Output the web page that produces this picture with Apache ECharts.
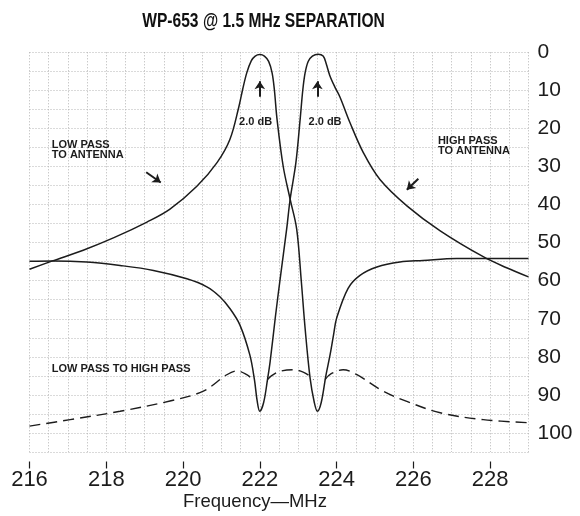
<!DOCTYPE html>
<html><head><meta charset="utf-8">
<script src="https://cdn.jsdelivr.net/npm/echarts@6/dist/echarts.min.js"></script>
<style>html,body{margin:0;padding:0;background:#fff}#c{width:580px;height:516px}</style>
</head><body><div id="c"></div>
<script>
const chartTitle = 'WP-653 @ 1.5 MHz SEPARATION';
const xAxisName = 'Frequency\u2014MHz';
const xTickLabels = [216, 218, 220, 222, 224, 226, 228];
const yTickLabels = [0, 10, 20, 30, 40, 50, 60, 70, 80, 90, 100];

// [MHz, dB]
const lowPassToAntenna = [
  [216.0, 57.0], [216.6, 54.8], [217.4, 52.0], [218.2, 48.7], [219.06, 44.6], [219.66, 41.2],
  [220.36, 35.2], [220.89, 28.9], [221.22, 22.9], [221.45, 14.5], [221.55, 9.9], [221.66, 5.4],
  [221.78, 2.2], [221.88, 1.0], [222.0, 0.6], [222.12, 1.0], [222.23, 2.4], [222.32, 5.4],
  [222.38, 9.9], [222.45, 17.7], [222.61, 30.0], [222.79, 38.6], [222.96, 46.4], [223.08, 60.0],
  [223.18, 72.5], [223.31, 85.6], [223.42, 92.0], [223.5, 94.3], [223.6, 92.0], [223.72, 85.0],
  [223.83, 79.5], [223.92, 74.3], [224.0, 69.9], [224.3, 62.0], [224.61, 58.6], [225.05, 56.4],
  [225.65, 55.1], [226.25, 54.7], [227.13, 54.2], [228.0, 54.2], [229.0, 54.2]
];
const highPassToAntenna = [
  [216.0, 54.9], [216.62, 54.8], [217.49, 55.1], [218.36, 56.0], [219.23, 57.3], [220.1, 59.5],
  [220.62, 61.6], [220.96, 64.2], [221.22, 67.3], [221.48, 71.6], [221.74, 79.5], [221.86, 86.0],
  [221.93, 91.5], [222.0, 94.3], [222.1, 92.0], [222.2, 86.0], [222.27, 81.2], [222.4, 70.0],
  [222.53, 59.5], [222.7, 46.4], [222.79, 38.6], [222.94, 29.0], [223.05, 17.7], [223.12, 9.9],
  [223.18, 5.4], [223.26, 2.4], [223.37, 1.0], [223.52, 0.5], [223.65, 1.0], [223.73, 3.0],
  [223.82, 6.0], [223.95, 9.0], [224.09, 11.8], [224.35, 18.5], [224.7, 26.4], [225.13, 33.4],
  [225.84, 40.4], [226.7, 46.9], [227.82, 53.7], [228.43, 56.6], [229.0, 59.0]
];
const lowPassToHighPass = [
  [216.0, 98.2], [217.06, 96.5], [218.36, 94.3], [219.66, 91.6], [220.53, 89.0], [221.14, 84.7],
  [221.4, 83.7], [221.66, 84.7], [221.83, 86.0], [222.0, '-'], [222.2, 86.0], [222.3, 85.0],
  [222.53, 83.8], [222.87, 83.4], [223.13, 84.0], [223.31, 85.1], [223.4, 86.0], [223.5, '-'],
  [223.7, 86.0], [223.85, 84.5], [224.17, 83.4], [224.53, 84.7], [225.21, 89.0], [225.83, 91.7],
  [226.7, 94.7], [227.82, 96.5], [229.0, 97.3]
];

// annotation texts: [MHz, dB] anchor
const noteTexts = [
  { text: 'LOW PASS\nTO ANTENNA', at: [216.58, 22.9], align: 'left', vAlign: 'top' },
  { text: 'HIGH PASS\nTO ANTENNA', at: [226.64, 21.9], align: 'left', vAlign: 'top' },
  { text: '2.0 dB', at: [221.89, 18.3], align: 'center', vAlign: 'middle' },
  { text: '2.0 dB', at: [223.7, 18.3], align: 'center', vAlign: 'middle' },
  { text: 'LOW PASS TO HIGH PASS', at: [216.58, 83.3], align: 'left', vAlign: 'middle' }
];
// arrows: tail -> head, [MHz, dB]
const noteArrows = [
  [[219.04, 31.5], [219.42, 34.2]],
  [[226.13, 33.2], [225.83, 36.1]],
  [[222.0, 11.7], [222.0, 7.6]],
  [[223.5, 11.7], [223.5, 7.6]]
];

const ink = '#1c1c1c';
const font = 'Liberation Sans, Arial, Helvetica, sans-serif';
const gridLine = { show: true, lineStyle: { type: [1, 2], color: '#b4b4b4', width: 1 } };

const plotLeft = 29.5, plotRight = 51.5, plotTop = 52.3, plotBottom = 61.5;
const plotWidth = 580 - plotLeft - plotRight;
const freqMin = 216, freqMax = 229, labelMax = 228;
const labelGridRight = 580 - plotLeft - plotWidth * (labelMax - freqMin) / (freqMax - freqMin);

const chart = echarts.init(document.getElementById('c'), null, { renderer: 'canvas' });
chart.setOption({
  animation: false,
  backgroundColor: '#fff',
  textStyle: { fontFamily: font },
  grid: [
    { left: plotLeft, right: plotRight, top: plotTop, bottom: plotBottom, containLabel: false },
    { left: plotLeft, right: labelGridRight, top: plotTop, bottom: plotBottom, containLabel: false }
  ],
  xAxis: [
    {
      type: 'value', gridIndex: 0, min: freqMin, max: freqMax, interval: 0.5,
      axisLine: { show: false, onZero: false }, axisTick: { show: false }, axisLabel: { show: false },
      splitLine: gridLine,
      name: xAxisName, nameLocation: 'middle', nameGap: 40,
      nameTextStyle: { fontSize: 18.5, color: ink, fontFamily: font, padding: [0, 48, 0, 0] }
    },
    {
      type: 'value', gridIndex: 1, position: 'bottom', min: freqMin, max: labelMax, interval: 2, offset: 7,
      axisLine: { show: false, onZero: false },
      axisTick: { show: true, inside: false, length: 7, lineStyle: { color: ink, width: 1.2 } },
      axisLabel: { margin: 7, fontSize: 22, color: ink, fontFamily: font },
      splitLine: { show: false }
    }
  ],
  yAxis: [
    {
      type: 'value', gridIndex: 0, inverse: true, min: 0, max: 105, interval: 5, position: 'right',
      axisLine: { show: false }, axisTick: { show: false },
      axisLabel: { customValues: yTickLabels, margin: 9, fontSize: 21, color: ink, fontFamily: font },
      splitLine: gridLine
    },
    { type: 'value', gridIndex: 1, show: false, min: 0, max: 105, splitLine: { show: false } }
  ],
  series: [
    { type: 'line', name: 'LOW PASS TO ANTENNA', data: lowPassToAntenna, showSymbol: false, smooth: 0.35,
      lineStyle: { color: ink, width: 1.5 }, z: 3 },
    { type: 'line', name: 'HIGH PASS TO ANTENNA', data: highPassToAntenna, showSymbol: false, smooth: 0.35,
      lineStyle: { color: ink, width: 1.5 }, z: 3 },
    { type: 'line', name: 'LOW PASS TO HIGH PASS', data: lowPassToHighPass, showSymbol: false, smooth: 0.35,
      connectNulls: false, lineStyle: { color: ink, width: 1.4, type: [11, 6] }, z: 3 },
    { type: 'lines', coordinateSystem: 'cartesian2d', symbol: ['none', 'arrow'], symbolSize: 8,
      lineStyle: { color: ink, width: 2, opacity: 1 }, z: 4,
      data: noteArrows.map(a => ({ coords: a })) }
  ]
});

const g = noteTexts.map(n => {
  const p = chart.convertToPixel({ xAxisIndex: 0, yAxisIndex: 0 }, n.at);
  return {
    type: 'text', x: p[0], y: p[1], z: 10,
    style: { text: n.text, fill: ink, font: 'bold 11px ' + font, align: n.align, verticalAlign: n.vAlign, lineHeight: 10 }
  };
});
g.push({
  type: 'text', x: 263.5, y: 12, scaleX: 0.8, z: 10,
  style: { text: chartTitle, fill: '#111', font: 'bold 19.5px ' + font, align: 'center', verticalAlign: 'top' }
});
chart.setOption({ graphic: g });
</script>
</body></html>
